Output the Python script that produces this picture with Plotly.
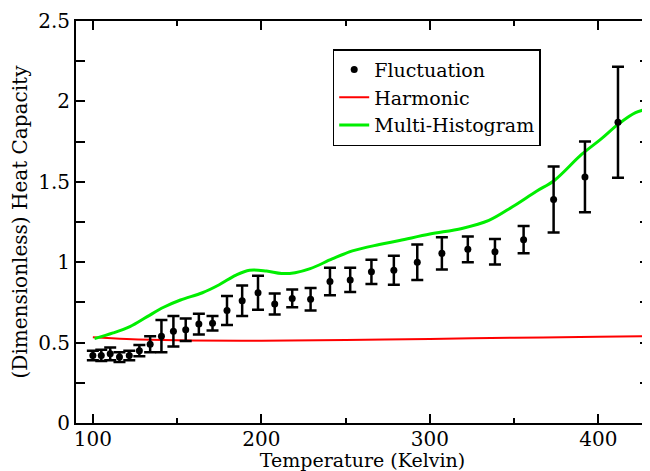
import plotly.graph_objects as go

# Fluctuation estimates (Temperature K, heat capacity, error)
fluct_T = [100, 105, 110.3, 115.8, 121.6, 127.6, 134.0, 140.7, 147.8, 155.1,
           162.9, 171.0, 179.6, 188.6, 198.0, 207.9, 218.3, 229.2, 240.7, 252.7,
           265.3, 278.6, 292.5, 307.1, 322.5, 338.6, 355.6, 373.4, 392.0, 411.6]
fluct_C = [0.42, 0.42, 0.43, 0.41, 0.42, 0.45, 0.49, 0.54, 0.57, 0.58,
           0.615, 0.62, 0.70, 0.76, 0.81, 0.74, 0.775, 0.77, 0.88, 0.89,
           0.94, 0.95, 1.00, 1.055, 1.08, 1.065, 1.14, 1.39, 1.53, 1.87]
fluct_err = [0.03, 0.035, 0.04, 0.03, 0.03, 0.035, 0.05, 0.10, 0.095, 0.07,
             0.065, 0.045, 0.09, 0.095, 0.105, 0.065, 0.055, 0.07, 0.085, 0.075,
             0.075, 0.09, 0.11, 0.10, 0.08, 0.08, 0.085, 0.205, 0.22, 0.345]

# Harmonic
harm_T = [100, 120, 150, 200, 250, 300, 350, 400, 430]
harm_C = [0.533, 0.522, 0.514, 0.512, 0.516, 0.523, 0.530, 0.537, 0.540]

# Multi-Histogram
mh_T = [101, 112, 122, 132, 142, 152, 165, 175, 185, 193, 203, 212, 220, 229,
        242, 254, 270, 282, 300, 319, 335, 349, 363, 374, 390, 402, 412, 422, 430]
mh_C = [0.525, 0.56, 0.60, 0.66, 0.72, 0.765, 0.81, 0.86, 0.92, 0.95, 0.945, 0.93,
        0.935, 0.96, 1.02, 1.07, 1.11, 1.135, 1.175, 1.21, 1.26, 1.345, 1.44, 1.51,
        1.67, 1.77, 1.86, 1.93, 1.955]

FONT = "DejaVu Serif"

fig = go.Figure()
fig.add_trace(go.Scatter(
    x=harm_T, y=harm_C, mode="lines", name="Harmonic", legendrank=2,
    line=dict(color="#ff0000", width=2, shape="spline")))
fig.add_trace(go.Scatter(
    x=mh_T, y=mh_C, mode="lines", name="Multi-Histogram", legendrank=3,
    line=dict(color="#00ee00", width=3, shape="spline", smoothing=1.0)))
fig.add_trace(go.Scatter(
    x=fluct_T, y=fluct_C, mode="markers", name="Fluctuation", legendrank=1,
    marker=dict(color="black", size=7),
    error_y=dict(type="data", array=fluct_err, visible=True,
                 color="black", thickness=2.5, width=6)))

# page body has an 8px margin: size the figure so it fits the 650x471 window
fig.update_layout(
    width=642, height=463,
    margin=dict(l=68, r=1, t=13, b=48, autoexpand=False),
    plot_bgcolor="white", paper_bgcolor="white",
    font=dict(family=FONT, size=20, color="black"),
    showlegend=True,
    legend=dict(x=0.448, y=0.93, xanchor="left", yanchor="top",
                bgcolor="white", bordercolor="black", borderwidth=1.5,
                font=dict(family=FONT, size=19),
                tracegroupgap=0, itemwidth=30),
    xaxis=dict(range=[90, 430], tickvals=[100, 200, 300, 400],
               ticks="inside", ticklen=9, tickwidth=2, tickcolor="black",
               showline=True, linecolor="black", linewidth=2, mirror="ticks",
               showgrid=False, zeroline=False, automargin=False,
               ticklabelstandoff=-3,
               minor=dict(ticks="inside", tickvals=[150, 250, 350], ticklen=5,
                          tickwidth=2, tickcolor="black", showgrid=False),
               title=dict(text="Temperature (Kelvin)", standoff=3,
                          font=dict(family=FONT, size=19)),
               tickfont=dict(family=FONT, size=20)),
    yaxis=dict(range=[0, 2.5], tickvals=[0, 0.5, 1, 1.5, 2, 2.5],
               ticktext=["0", "0.5", "1", "1.5", "2", "2.5"],
               ticks="inside", ticklen=9, tickwidth=2, tickcolor="black",
               showline=True, linecolor="black", linewidth=2, mirror="ticks",
               showgrid=False, zeroline=False, automargin=False,
               minor=dict(ticks="inside", tickvals=[0.25, 0.75, 1.25, 1.75, 2.25],
                          ticklen=9, tickwidth=2, tickcolor="black", showgrid=False),
               title=dict(text="(Dimensionless) Heat Capacity", standoff=6,
                          font=dict(family=FONT, size=20)),
               tickfont=dict(family=FONT, size=20)),
)

fig.write_html("out.html")
